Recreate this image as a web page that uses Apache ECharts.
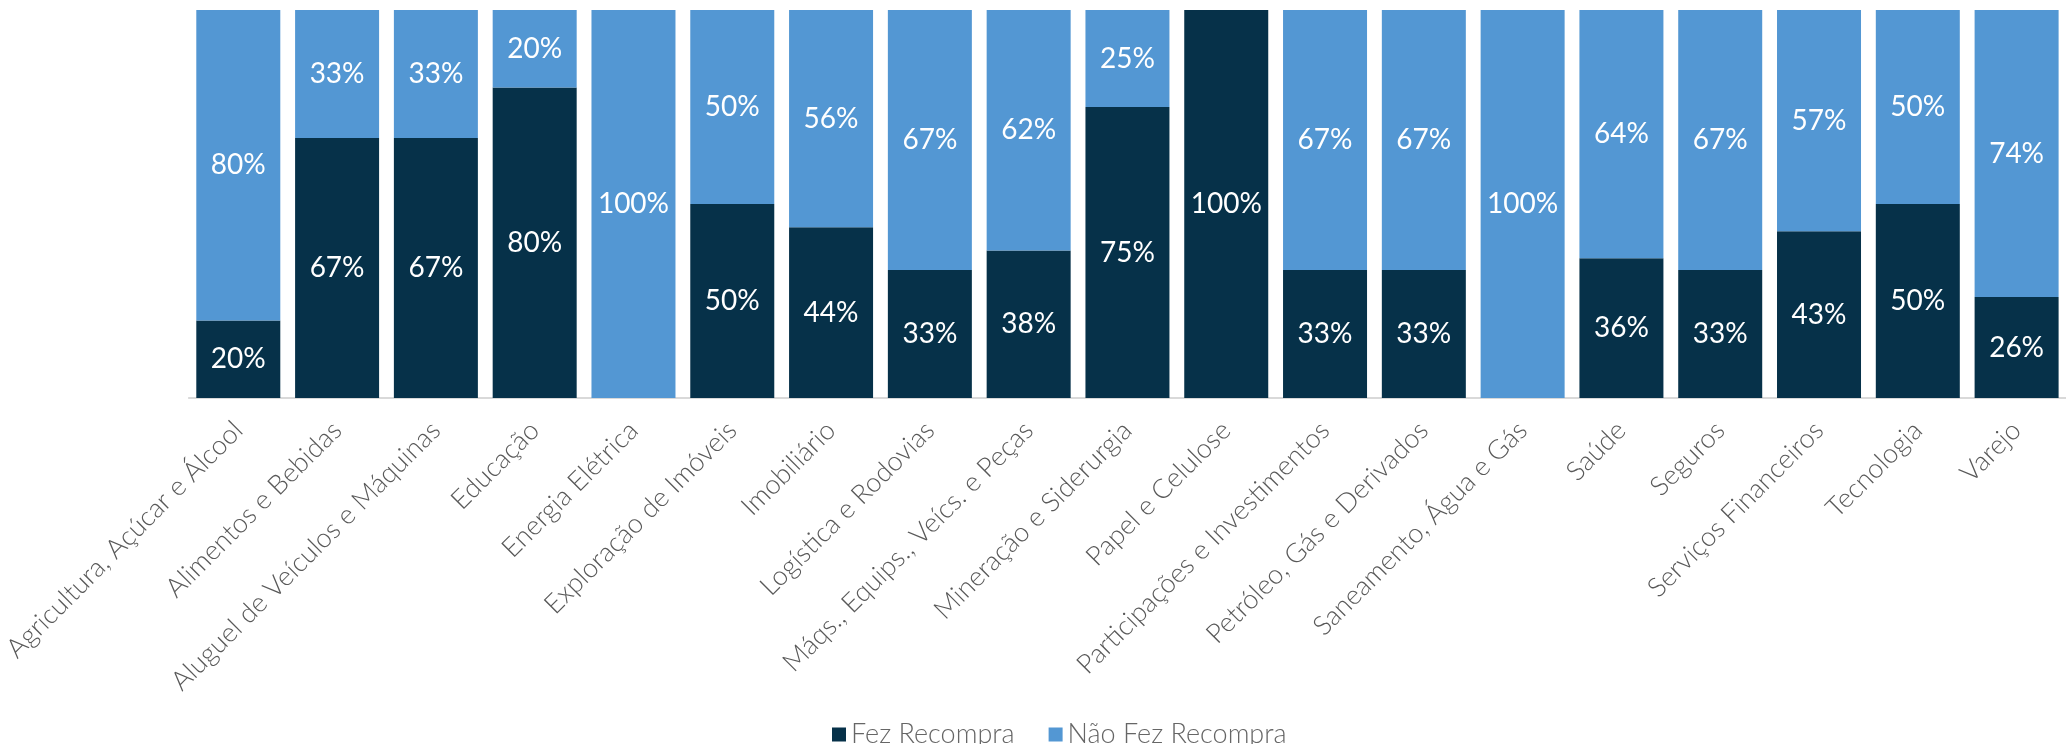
<!DOCTYPE html>
<html>
<head>
<meta charset="utf-8">
<script src="https://cdn.jsdelivr.net/npm/echarts@6/dist/echarts.min.js"></script>
<style>
html,body{margin:0;padding:0;background:#fff;}
#chart{width:2066px;height:744px;}
</style>
</head>
<body>
<div id="chart"></div>
<script>
const categories = [
  'Agricultura, Açúcar e Álcool','Alimentos e Bebidas','Aluguel de Veículos e Máquinas','Educação',
  'Energia Elétrica','Exploração de Imóveis','Imobiliário','Logística e Rodovias',
  'Máqs., Equips., Veícs. e Peças','Mineração e Siderurgia','Papel e Celulose',
  'Participações e Investimentos','Petróleo, Gás e Derivados','Saneamento, Água e Gás',
  'Saúde','Seguros','Serviços Financeiros','Tecnologia','Varejo'
];
const fezRecompra    = [20, 67, 67, 80, 0, 50, 44, 33, 38, 75, 100, 33, 33, 0, 36, 33, 43, 50, 26];
const naoFezRecompra = [80, 33, 33, 20, 100, 50, 56, 67, 62, 25, 0, 67, 67, 100, 64, 67, 57, 50, 74];
const seriesNames = ['Fez Recompra', 'Não Fez Recompra'];

const chart = echarts.init(document.getElementById('chart'));
const labelCfg = {
  show: true,
  position: 'inside',
  color: '#ffffff',
  fontFamily: 'Lato',
  fontWeight: 'normal',
  fontSize: 28,
  formatter: p => p.value > 0 ? p.value + '%' : ''
};
chart.setOption({
  animation: false,
  backgroundColor: '#ffffff',
  grid: { left: 185, top: 10, width: 1900, height: 388, containLabel: false },
  legend: {
    data: seriesNames,
    left: 827,
    top: 716,
    itemWidth: 14,
    itemHeight: 14,
    itemGap: 34,
    icon: 'rect',
    textStyle: { fontFamily: 'Lato', fontWeight: 300, fontSize: 27, color: '#666666' }
  },
  xAxis: {
    type: 'category',
    data: categories,
    axisTick: { show: false },
    axisLine: { lineStyle: { color: '#d9d9d9', width: 2 } },
    axisLabel: {
      interval: 0,
      rotate: 45,
      margin: 28,
      fontFamily: 'Lato',
      fontWeight: 300,
      fontSize: 27,
      color: '#595959'
    }
  },
  yAxis: { type: 'value', min: 0, max: 100, show: false, splitLine: { show: false } },
  series: [
    {
      name: seriesNames[0], type: 'bar', stack: 'total', data: fezRecompra,
      barWidth: 84,
      itemStyle: { color: '#063149' },
      label: labelCfg
    },
    {
      name: seriesNames[1], type: 'bar', stack: 'total', data: naoFezRecompra,
      barWidth: 84,
      itemStyle: { color: '#5397d3' },
      label: labelCfg
    }
  ]
});
</script>
</body>
</html>
